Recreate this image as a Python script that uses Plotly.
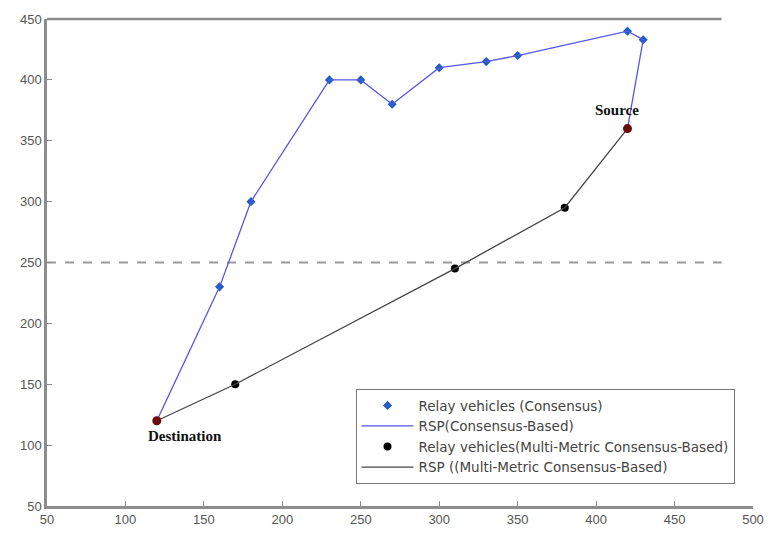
import plotly.graph_objects as go

# Route found by the consensus-based scheme (destination -> relays -> source)
consensus_x = [120, 160, 180, 230, 250, 270, 300, 330, 350, 420, 430, 420]
consensus_y = [120, 230, 300, 400, 400, 380, 410, 415, 420, 440, 433, 360]

# Route found by the multi-metric consensus-based scheme
multi_x = [120, 170, 310, 380, 420]
multi_y = [120, 150, 245, 295, 360]

# Endpoints
dest = (120, 120)
src = (420, 360)

# Reference lines (upper boundary and mid threshold)
bound_x = [50, 480]
top_y = 450
mid_y = 250

x_range = [50, 500]
y_range = [50, 450]
x_ticks = [50, 100, 150, 200, 250, 300, 350, 400, 450, 500]
y_ticks = [50, 100, 150, 200, 250, 300, 350, 400, 450]

fig = go.Figure()

# upper boundary: drawn as a shape in paper y so it is not clipped at the plot edge
top_paper = (top_y - y_range[0]) / (y_range[1] - y_range[0])
fig.add_shape(type="line", xref="x", yref="paper",
              x0=bound_x[0], x1=bound_x[1], y0=top_paper, y1=top_paper,
              line=dict(color="#8c8c8c", width=2.5), layer="below")

fig.add_trace(go.Scatter(x=bound_x, y=[mid_y, mid_y], mode="lines",
                         line=dict(color="#9a9a9a", width=2, dash="dash"),
                         showlegend=False, hoverinfo="skip"))

# consensus route
fig.add_trace(go.Scatter(x=consensus_x[1:-1], y=consensus_y[1:-1], mode="markers",
                         marker=dict(symbol="diamond", size=7, color="#1f5fc4"),
                         name="Relay vehicles (Consensus)"))
fig.add_trace(go.Scatter(x=consensus_x, y=consensus_y, mode="lines",
                         line=dict(color="#5656e6", width=1.3),
                         name="RSP(Consensus-Based)"))

# multi-metric route
fig.add_trace(go.Scatter(x=multi_x[1:-1], y=multi_y[1:-1], mode="markers",
                         marker=dict(symbol="circle", size=8, color="#000000"),
                         name="Relay vehicles(Multi-Metric Consensus-Based)"))
fig.add_trace(go.Scatter(x=multi_x, y=multi_y, mode="lines",
                         line=dict(color="#454545", width=1.3),
                         name="RSP ((Multi-Metric Consensus-Based)"))

# endpoints
fig.add_trace(go.Scatter(x=[dest[0], src[0]], y=[dest[1], src[1]], mode="markers",
                         marker=dict(symbol="circle", size=9, color="#6a0a0a"),
                         showlegend=False, hoverinfo="skip"))

fig.add_annotation(x=src[0], y=src[1], text="<b>Source</b>", showarrow=False,
                   xshift=-10, yshift=19,
                   font=dict(family="Liberation Serif", size=15, color="#111111"))
fig.add_annotation(x=dest[0], y=dest[1], text="<b>Destination</b>", showarrow=False,
                   xshift=28, yshift=-15,
                   font=dict(family="Liberation Serif", size=15, color="#111111"))

axis_common = dict(showgrid=False, zeroline=False, showline=True,
                   linecolor="#8c8c8c", linewidth=2.5, ticks="inside", ticklen=5,
                   tickcolor="#8c8c8c", tickwidth=1,
                   tickfont=dict(family="Liberation Sans", size=13, color="#555555"))

fig.update_layout(
    width=776, height=539,
    margin=dict(l=47, r=17, t=14, b=30),
    paper_bgcolor="white", plot_bgcolor="white",
    xaxis=dict(range=x_range, tickvals=x_ticks, **axis_common),
    yaxis=dict(range=y_range, tickvals=y_ticks, **axis_common),
    legend=dict(x=0.437, y=0.24, xanchor="left", yanchor="top",
                bgcolor="white", bordercolor="#777777", borderwidth=1,
                font=dict(family="DejaVu Sans", size=13.5, color="#444444"),
                tracegroupgap=0, itemwidth=52),
)

fig.write_html("out.html")
